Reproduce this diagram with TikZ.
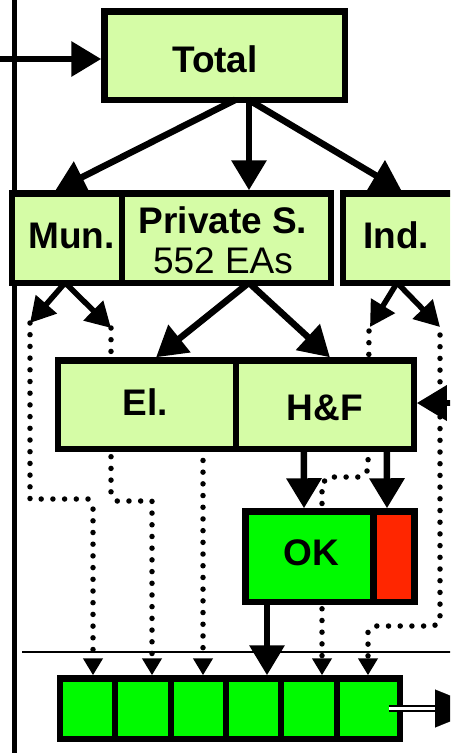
\documentclass[tikz,border=0pt]{standalone}
\usepackage{fontspec}
\setmainfont{Liberation Sans}
\usetikzlibrary{arrows.meta,calc,backgrounds}
\definecolor{lgreen}{RGB}{213,252,166}
\definecolor{bgreen}{RGB}{0,250,0}
\definecolor{bred}{RGB}{255,38,0}
\begin{document}
\begin{tikzpicture}[x=1pt,y=-1pt,
  gbox/.style={draw=black,line width=6.5pt,fill=lgreen,rectangle,inner sep=0pt,outer sep=0pt},
  lbl/.style={font=\fontsize{37}{40}\selectfont\bfseries,inner sep=0pt,anchor=base},
  lblr/.style={font=\fontsize{37}{40}\selectfont,inner sep=0pt,anchor=base},
  arr/.style={line width=6.5pt,-{Triangle[length=30pt,width=34pt]}},
  marr/.style={line width=5.5pt,-{Triangle[length=25pt,width=27pt]}},
  dots/.style={line width=5.5pt,line cap=round,dash pattern=on 0pt off 11.7pt,-{Triangle[length=17pt,width=19pt]}},
  dline/.style={line width=2.4pt,double=white,double distance=2.4pt}]
\useasboundingbox (0,0) rectangle (450,755);
\clip (0,0) rectangle (450,755);
% free lines
\draw[line width=5.5pt] (14.5,-5) -- (14.5,753);
\draw[line width=2.2pt] (22,652) -- (460,652);
% boxes
\node[gbox,minimum width=240.5pt,minimum height=88.5pt] (total) at (224.5,55.5) {};
\node[lbl] (totaltxt) at (215,72) {Total};
\node[gbox,minimum width=109.75pt,minimum height=89.5pt] (mun) at (67.1,238) {};
\node[gbox,minimum width=208.75pt,minimum height=89.5pt] (priv) at (226.4,238) {};
\node[gbox,minimum width=126.75pt,minimum height=89.5pt] (ind) at (406.6,238) {};
\node[lbl] (muntxt) at (71.5,248) {Mun.};
\node[lbl] (privtxt) at (223,233) {Private S.};
\node[lblr] (eatxt) at (223,273) {552 EAs};
\node[lbl] (indtxt) at (396,248) {Ind.};
\node[gbox,minimum width=177.75pt,minimum height=88.5pt] (el) at (147.1,404.5) {};
\node[gbox,minimum width=177.75pt,minimum height=88.5pt] (hf) at (324.9,404.5) {};
\node[lbl] (eltxt) at (145,415) {El.};
\node[lbl] (hftxt) at (325,420) {H\&F};
\node[gbox,fill=bgreen,minimum width=128.25pt,minimum height=90.5pt] (ok) at (309.4,556.5) {};
\node[gbox,fill=bred,minimum width=41.25pt,minimum height=90.5pt] (red) at (394.1,556.5) {};
\node[lbl] (oktxt) at (311.5,565) {OK};
\node[gbox,fill=bgreen,minimum width=54.75pt,minimum height=60.5pt] (c1) at (87.6,708.5) {};
\node[gbox,fill=bgreen,minimum width=56pt,minimum height=60.5pt] (c2) at (143,708.5) {};
\node[gbox,fill=bgreen,minimum width=55pt,minimum height=60.5pt] (c3) at (198.5,708.5) {};
\node[gbox,fill=bgreen,minimum width=55pt,minimum height=60.5pt] (c4) at (253.5,708.5) {};
\node[gbox,fill=bgreen,minimum width=56pt,minimum height=60.5pt] (c5) at (309,708.5) {};
\node[gbox,fill=bgreen,minimum width=62.75pt,minimum height=60.5pt] (c6) at (368.4,708.5) {};
% free ends
\coordinate (inL) at (-5,59);
\coordinate (inR) at (462,403);
\coordinate (m1) at (30,323);
\coordinate (m2) at (111,328);
\coordinate (i1) at (370,327);
\coordinate (i2) at (440,327);
\coordinate (outR) at (482,708.5);
% dotted connectors behind boxes
\begin{pgfonlayer}{background}
\draw[dots] (m1) -- (30,499) -- (88,499) -- (93,506) -- ($(c1.north)+(5.4,-3)$);
\draw[dots] (m2) -- (111,494) -- (117,501) -- (152,501) -- ($(c2.north)+(9,-3)$);
\draw[dots] ($(el.south)+(55.9,0)$) -- ($(c3.north)+(4.5,-3)$);
\draw[dots] ($(i1)+(-1,4)$) -- (368,470) -- (361,477) -- (328,477) -- (322,484) -- ($(c5.north)+(13,-3)$);
\draw[dots] ($(i2)+(0,8)$) -- (440,621) -- (434,626) -- (374,626) -- (368,632) -- ($(c6.north)+(-0.4,-3)$);
\end{pgfonlayer}
% solid connectors
\draw[arr] (inL) -- ($(total.west)+(-3,3.5)$);
\draw[arr] ($(total.south)+(11,0)$) -- ($(mun.north)+(-12,-2.5)$);
\draw[arr] ($(total.south)+(24.5,0)$) -- ($(priv.north)+(22.6,-3)$);
\draw[arr] ($(total.south)+(24,0)$) -- ($(ind.north)+(-5,-2.5)$);
\draw[marr] ($(mun.south)+(-2,0)$) -- (m1);
\draw[marr] ($(mun.south)+(-2,0)$) -- (m2);
\draw[arr] ($(priv.south)+(22.5,0)$) -- ($(el.north)+(9,-3)$);
\draw[arr] ($(priv.south)+(22.5,0)$) -- ($(hf.north)+(5,-3)$);
\draw[marr] ($(ind.south)+(-9.5,0)$) -- (i1);
\draw[marr] ($(ind.south)+(-9.5,0)$) -- (i2);
\draw[arr] (inR) -- ($(hf.east)+(3,-1.5)$);
\draw[arr] ($(hf.south)+(-21,0)$) -- ($(ok.north)+(-5.4,-3)$);
\draw[arr] ($(hf.south)+(62,0)$) -- ($(red.north)+(-7.1,-3)$);
\draw[arr] ($(ok.south)+(-42.4,0)$) -- ($(c4.north)+(13.5,-3)$);
\draw[dline] ($(c6.east)+(-11,0)$) -- ($(outR)+(-46,0)$);
\draw[line width=0.1pt,-{Triangle[length=47pt,width=38pt]}] ($(outR)+(-47,0)$) -- (outR);
\end{tikzpicture}
\end{document}
